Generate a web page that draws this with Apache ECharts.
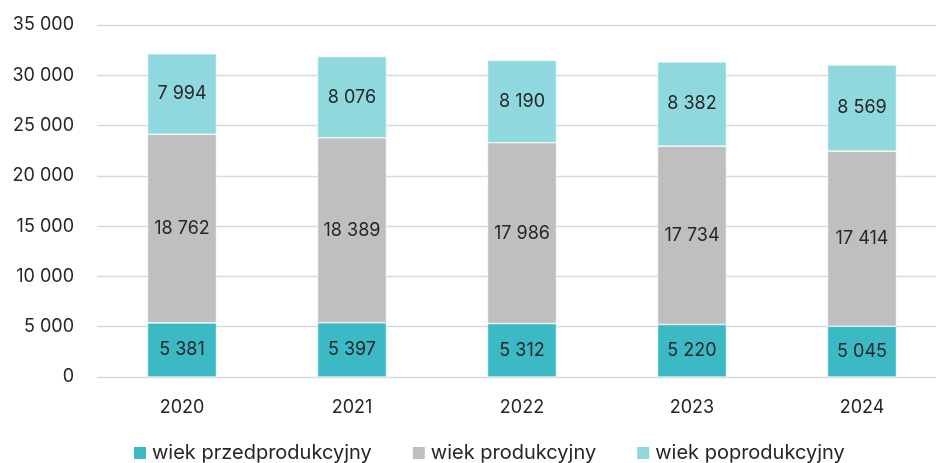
<!DOCTYPE html>
<html><head><meta charset="utf-8">
<script src="https://cdn.jsdelivr.net/npm/echarts@6/dist/echarts.min.js"></script>
<style>html,body{margin:0;padding:0;background:#fff}#c{width:936px;height:463px}</style>
</head><body><div id="c"></div>
<script>
const categories = ['2020','2021','2022','2023','2024'];
const seriesNames = ['wiek przedprodukcyjny','wiek produkcyjny','wiek poprodukcyjny'];
const preWorking = [5381, 5397, 5312, 5220, 5045];
const working = [18762, 18389, 17986, 17734, 17414];
const postWorking = [7994, 8076, 8190, 8382, 8569];
const colors = ['#3bbac6', '#bfbfbf', '#8fd8de'];

function fmt(v){ return String(v).replace(/\B(?=(\d{3})+(?!\d))/g, ' '); }
const FONT = 'Inter, "Noto Sans", sans-serif';

const chart = echarts.init(document.getElementById('c'), null, {renderer:'canvas'});
const mk = (name, data, color) => ({
  name, type:'bar', stack:'total', data, barWidth:'40.6%',
  itemStyle:{color, borderColor:'#ffffff', borderWidth:0.6},
  label:{show:true, position:'inside', formatter:p=>fmt(p.value), color:'#262626', fontSize:18, fontFamily:FONT},
  emphasis:{disabled:true}
});
chart.setOption({
  animation:false,
  grid:{left:97, width:850, top:25, height:352, containLabel:false, outerBoundsMode:'none'},
  legend:{
    top:443, left:132, padding:0, itemWidth:14, itemHeight:14, itemGap:39, icon:'rect',
    textStyle:{fontSize:20, color:'#262626', fontFamily:FONT},
    data:seriesNames
  },
  xAxis:{
    type:'category', data:categories,
    axisLine:{show:false}, axisTick:{show:false},
    axisLabel:{fontSize:18, color:'#262626', margin:22, fontFamily:FONT}
  },
  yAxis:{
    type:'value', min:0, max:35000, interval:5000,
    axisLine:{show:false}, axisTick:{show:false},
    splitLine:{lineStyle:{color:'#d9d9d9', width:1.3}},
    axisLabel:{fontSize:18, color:'#262626', margin:23, fontFamily:FONT, formatter:v=>fmt(v)}
  },
  series:[
    mk(seriesNames[0], preWorking, colors[0]),
    mk(seriesNames[1], working, colors[1]),
    mk(seriesNames[2], postWorking, colors[2])
  ]
});
</script></body></html>
